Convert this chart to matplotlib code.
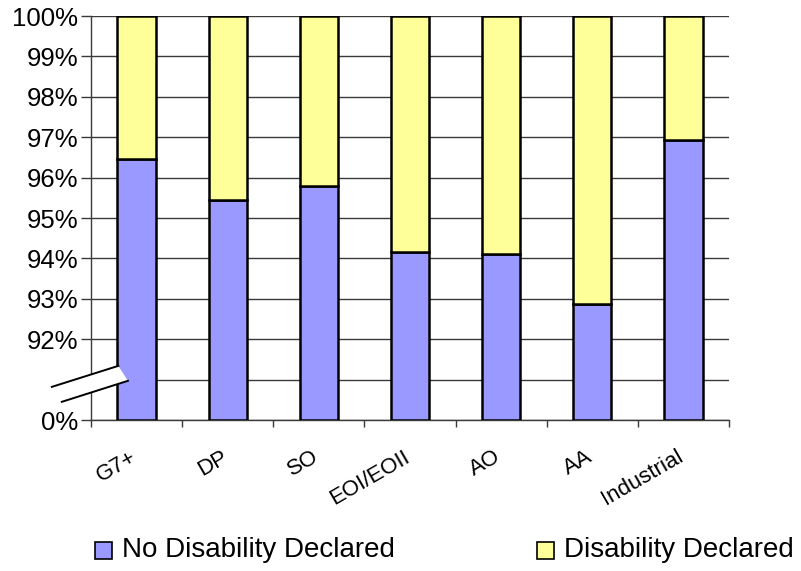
import matplotlib.pyplot as plt
import matplotlib.transforms as mtransforms
from matplotlib.patches import Polygon, Rectangle

plt.rcParams['font.family'] = ['Liberation Sans', 'DejaVu Sans']

categories = ["G7+", "DP", "SO", "EOI/EOII", "AO", "AA", "Industrial"]
no_disability = [96.46, 95.45, 95.8, 94.16, 94.1, 92.87, 96.93]
series_names = ["No Disability Declared", "Disability Declared"]
ytick_values = [0, 92, 93, 94, 95, 96, 97, 98, 99, 100]

blue = "#9999FF"
yellow = "#FFFF99"
grid_col = "#3a3a3a"

# broken axis: 0% sits one step below 91%, everything else is v - 90
def to_axis(v):
    return 0 if v == 0 else v - 90

x = list(range(len(categories)))
low = [to_axis(v) for v in no_disability]
high = [to_axis(100) - h for h in low]

fig = plt.figure(figsize=(8.01, 5.71), dpi=100)
ax = fig.add_axes([91 / 801, 1 - 420 / 571, (729 - 91) / 801, (420 - 16) / 571])

ax.bar(x, low, width=0.42, color=blue, edgecolor="black", linewidth=1.8, zorder=3)
ax.bar(x, high, bottom=low, width=0.42, color=yellow, edgecolor="black", linewidth=1.8, zorder=3)

ax.set_xlim(-0.5, len(categories) - 0.5)
ax.set_ylim(0, 10)

# gridlines at every step, including the unlabelled 91% line
for g in range(0, 11):
    ax.axhline(g, color=grid_col, linewidth=1.0, zorder=1)

ax.set_yticks([to_axis(v) for v in ytick_values])
ax.set_yticklabels([f"{v}%" for v in ytick_values], fontsize=18.5)
ax.tick_params(axis="y", length=7, width=1, color=grid_col, pad=2)

ax.set_xticks(x)
ax.set_xticklabels(categories, fontsize=16, rotation=30, ha="right", va="top",
                   rotation_mode="anchor")
ax.tick_params(axis="x", which="major", length=0, pad=19)
ax.set_xticks([i - 0.5 for i in range(len(categories) + 1)], minor=True)
ax.tick_params(axis="x", which="minor", length=5, width=1, color=grid_col)
shift = mtransforms.ScaledTranslation(-7 / 100, 0, fig.dpi_scale_trans)
for lbl in ax.get_xticklabels():
    lbl.set_transform(lbl.get_transform() + shift)

for side in ["top", "right"]:
    ax.spines[side].set_visible(False)
for side in ["left", "bottom"]:
    ax.spines[side].set_color(grid_col)
    ax.spines[side].set_linewidth(1.0)

# axis break marker
gap = Polygon([(-0.93, 0.82), (-0.20, 1.34), (-0.095, 0.97), (-0.82, 0.45)],
              closed=True, facecolor="white", edgecolor="none",
              zorder=6, clip_on=False)
ax.add_patch(gap)
ax.plot([-0.93, -0.20], [0.82, 1.34], color="black", linewidth=1.4, zorder=7, clip_on=False)
ax.plot([-0.82, -0.095], [0.45, 0.97], color="black", linewidth=1.4, zorder=7, clip_on=False)

# legend along the bottom
legend_items = [(95, blue), (537, yellow)]
for (px, col), name in zip(legend_items, series_names):
    fig.patches.append(Rectangle((px / 801, 1 - 559 / 571), 17 / 801, 17 / 571,
                                 transform=fig.transFigure, facecolor=col,
                                 edgecolor="black", linewidth=1.2))
    fig.text((px + 27) / 801, 1 - 550 / 571, name, fontsize=20, va="center", ha="left")

fig.savefig("out.png", dpi=100)
